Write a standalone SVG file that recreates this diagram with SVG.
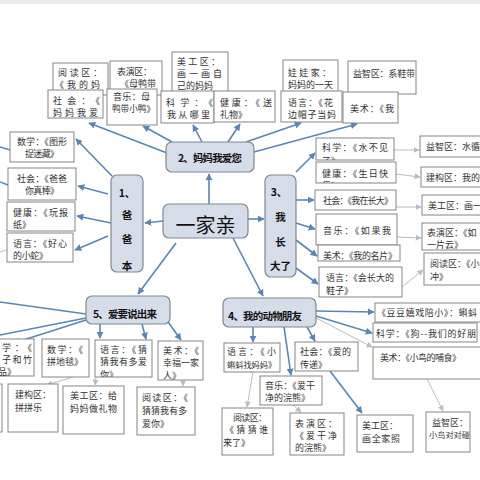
<svg xmlns="http://www.w3.org/2000/svg" width="480" height="480" viewBox="0 0 480 480">
<style>
.n{fill:#d5dde8;stroke:#7f8993;stroke-width:1.2}
.b{fill:#fff;stroke:#858585;stroke-width:1}
.t{font-family:"Noto Sans CJK SC","Noto Sans CJK JP",sans-serif;font-size:9px;fill:#333}
.h{font-family:"Noto Sans CJK SC","Noto Sans CJK JP",sans-serif;font-size:10.5px;font-weight:bold;fill:#111}
.c{stroke:#5a86b5;stroke-width:1.6;fill:none;marker-end:url(#a)}
.l{stroke:#5a86b5;stroke-width:1.4;fill:none}
.g{stroke:#b4bec8;stroke-width:1;fill:none;marker-end:url(#ag)}
</style>
<defs>
<marker id="a" viewBox="0 0 10 10" refX="9" refY="5" markerWidth="7" markerHeight="7" markerUnits="userSpaceOnUse" orient="auto"><path d="M0,0 L10,5 L0,10 z" fill="#5a86b5"/></marker>
<marker id="ag" viewBox="0 0 10 10" refX="9" refY="5" markerWidth="6" markerHeight="6" markerUnits="userSpaceOnUse" orient="auto"><path d="M0,0 L10,5 L0,10 z" fill="#b4bec8"/></marker>
<clipPath id="kR1"><rect x="316" y="138" width="78" height="22"/></clipPath>
<clipPath id="kR2"><rect x="316" y="162" width="80" height="21"/></clipPath>
<clipPath id="kV2"><rect x="95" y="340" width="57" height="37"/></clipPath>
<clipPath id="kV3"><rect x="158" y="341" width="45" height="39"/></clipPath>
</defs>
<rect x="0" y="0" width="480" height="4" fill="#ececec"/>

<g id="connectors">
<path class="c" d="M209,204 L209,174"/>
<path class="c" d="M163,221 L145,223"/>
<path class="c" d="M248,219 L264,219"/>
<path class="c" d="M176,243 L138,294"/>
<path class="c" d="M233,238 L263,296"/>
<path class="c" d="M167,153 L89,123"/>
<path class="c" d="M172,142 L143,126"/>
<path class="c" d="M202,142 L193,125"/>
<path class="c" d="M228,142 L240,124"/>
<path class="c" d="M246,142 L301,123"/>
<path class="c" d="M254,152 L357,124"/>
<path class="c" d="M112,176 L76,139"/>
<path class="c" d="M108,194 L78,186"/>
<path class="c" d="M111,223 L77,216"/>
<path class="c" d="M108,236 L75,250"/>
<path class="l" d="M0,147 L10,150"/>
<path class="l" d="M0,182 L8,185"/>
<path class="g" d="M0,252 L7,250" style="marker-end:none"/>
<path class="c" d="M296,172 L315,153"/>
<path class="c" d="M296,200 L314,200"/>
<path class="c" d="M296,223 L315,229"/>
<path class="c" d="M296,240 L317,256"/>
<path class="c" d="M296,268 L318,284"/>
<path class="c" d="M316,311 L374,312"/>
<path class="c" d="M316,316 L372,333"/>
<path class="g" d="M316,318 L372,347"/>
<path class="c" d="M253,327 L253,342"/>
<path class="c" d="M307,327 L315,341"/>
<path class="c" d="M284,327 L291,375"/>
<path class="c" d="M330,371 L362,413"/>
<path class="c" d="M100,324 L100,338"/>
<path class="c" d="M142,324 L146,339"/>
<path class="c" d="M168,322 L181,340"/>
<path class="l" d="M86,314 L0,302"/>
<path class="l" d="M86,318 L0,335"/>
<path class="c" d="M86,320 L14,343"/>
<path class="g" d="M394,150 L419,150"/>
<path class="g" d="M396,174 L420,177"/>
<path class="g" d="M396,207 L421,207"/>
<path class="g" d="M397,237 L421,238"/>
<path class="g" d="M402,287 L423,270"/>
<path class="g" d="M377,92 L381,83"/>
<path class="g" d="M253,372 L247,407"/>
<path class="g" d="M293,405 L301,412"/>
<path class="g" d="M427,379 L443,411"/>
<path class="g" d="M73,377 L47,385"/>
<path class="g" d="M96,377 L95,385"/>
<path class="g" d="M183,380 L183,386"/>
</g>

<g id="center"><rect class="n" x="163" y="204" width="85" height="34" rx="6"/><text class="t" x="205.5" y="233" text-anchor="middle" style="font-size:20px;fill:#111">一家亲</text></g>
<g id="node2"><rect class="n" x="166" y="142" width="88" height="30" rx="6"/><text class="h" x="178" y="162" textLength="64">2、妈妈我爱您</text></g>
<g id="node1"><rect class="n" x="111" y="175" width="32" height="97" rx="6"/>
<text class="h" x="127" y="197" text-anchor="middle">1、</text><text class="h" x="127" y="219" text-anchor="middle">爸</text><text class="h" x="127" y="243" text-anchor="middle">爸</text><text class="h" x="127" y="270" text-anchor="middle">本</text></g>
<g id="node3"><rect class="n" x="265" y="175" width="31" height="102" rx="6"/>
<text class="h" x="279" y="196" text-anchor="middle">3、</text><text class="h" x="280.5" y="221" text-anchor="middle">我</text><text class="h" x="280.5" y="246" text-anchor="middle">长</text><text class="h" x="280.5" y="270" text-anchor="middle">大了</text></g>
<g id="node5"><rect class="n" x="86" y="296" width="84" height="28" rx="6"/><text class="h" x="93" y="318" textLength="64">5、爱要说出来</text></g>
<g id="node4"><rect class="n" x="223" y="298" width="93" height="29" rx="6"/><text class="h" x="228" y="320" textLength="74">4、我的动物朋友</text></g>

<g id="t1"><rect class="b" x="53" y="63" width="55" height="32"/><text class="t" x="58" y="76" textLength="44">阅读区：</text><text class="t" x="55" y="88" textLength="45">《我的妈</text></g>
<g id="t2"><rect class="b" x="110" y="61" width="52" height="34"/><text class="t" x="117" y="75" textLength="35">表演区：</text><text class="t" x="120" y="87" textLength="36">《母鸭带</text></g>
<g id="t4"><rect class="b" x="48" y="90" width="55" height="28"/><text class="t" x="53" y="104" textLength="47">社会：《</text><text class="t" x="53" y="116" textLength="45">妈妈我爱</text></g>
<g id="t3"><rect class="b" x="107" y="89" width="50" height="36"/><text class="t" x="113" y="100" textLength="37">音乐：母</text><text class="t" x="112" y="112" style="font-size:8.6px">鸭带小鸭》</text></g>
<g id="t5"><rect class="b" x="172" y="52" width="56" height="40"/><text class="t" x="177" y="65" textLength="43">美工区：</text><text class="t" x="177" y="77" textLength="45">画一画自</text><text class="t" x="177" y="89" textLength="36">己的妈妈</text></g>
<g id="t6"><rect class="b" x="161" y="91" width="53" height="32"/><text class="t" x="166" y="106" textLength="47">科学：《</text><text class="t" x="167" y="118" textLength="43">我从哪里</text></g>
<g id="t7"><rect class="b" x="214" y="91" width="61" height="31"/><text class="t" x="220" y="106" textLength="52">健康：《送</text><text class="t" x="220" y="118" textLength="27">礼物》</text></g>
<g id="t8"><rect class="b" x="283" y="60" width="55" height="32"/><text class="t" x="288" y="76" textLength="43">娃娃家：</text><text class="t" x="288" y="88" textLength="45">妈妈的一天</text></g>
<g id="t9"><rect class="b" x="281" y="91" width="61" height="31"/><text class="t" x="288" y="106" textLength="45">语言：《花</text><text class="t" x="288" y="118" textLength="48">边帽子当妈</text></g>
<g id="t10"><rect class="b" x="348" y="61" width="68" height="33"/><text class="t" x="353" y="77" textLength="62">益智区：系鞋带</text></g>
<g id="t11"><rect class="b" x="343" y="92" width="55" height="31"/><text class="t" x="350" y="112" textLength="44">美术：《我</text></g>

<g id="l1"><rect class="b" x="10" y="132" width="64" height="30"/><text class="t" x="17" y="145" textLength="50">数学：《图形</text><text class="t" x="25" y="157" textLength="34">捉迷藏》</text></g>
<g id="l2"><rect class="b" x="8" y="168" width="68" height="32"/><text class="t" x="17" y="182" textLength="50">社会：《爸爸</text><text class="t" x="25" y="194" textLength="34">你真棒》</text></g>
<g id="l3"><rect class="b" x="7" y="202" width="68" height="29"/><text class="t" x="13" y="216" textLength="55">健康：《玩报</text><text class="t" x="13" y="228" textLength="18">纸》</text></g>
<g id="l4"><rect class="b" x="7" y="233" width="66" height="29"/><text class="t" x="13" y="247" textLength="54">语言：《好心</text><text class="t" x="13" y="259" textLength="35">的小蛇》</text></g>

<g id="r1"><rect class="b" x="316" y="138" width="78" height="22"/><g clip-path="url(#kR1)"><text class="t" x="322" y="151" textLength="66">科学：《水不见</text><text class="t" x="322" y="164">了》</text></g></g>
<g id="r2"><rect class="b" x="316" y="162" width="80" height="21"/><g clip-path="url(#kR2)"><text class="t" x="322" y="177" textLength="66">健康：《生日快</text><text class="t" x="322" y="189">乐》</text></g></g>
<g id="r3"><rect class="b" x="315" y="190" width="81" height="20"/><text class="t" x="323" y="204" textLength="70">社会：《我在长大》</text></g>
<g id="r4"><rect class="b" x="316" y="214" width="81" height="31"/><text class="t" x="323" y="234" textLength="68">音乐：《如果我</text></g>
<g id="r5"><rect class="b" x="318" y="245" width="82" height="16"/><text class="t" x="323" y="259" textLength="74">美术：《我的名片》</text></g>
<g id="r6"><rect class="b" x="319" y="267" width="83" height="30"/><text class="t" x="326" y="281" textLength="68">语言：《会长大的</text><text class="t" x="326" y="294" textLength="27">鞋子》</text></g>

<g id="z1"><rect class="b" x="420" y="136" width="70" height="21"/><text class="t" x="426" y="150">益智区：水循环</text></g>
<g id="z2"><rect class="b" x="421" y="167" width="70" height="20"/><text class="t" x="426" y="181">建构区：我的</text></g>
<g id="z3"><rect class="b" x="422" y="195" width="70" height="20"/><text class="t" x="428" y="209">美工区：画一画</text></g>
<g id="z4"><rect class="b" x="422" y="223" width="70" height="27"/><text class="t" x="427" y="236">表演区：《如</text><text class="t" x="427" y="248">一片云》</text></g>
<g id="z5"><rect class="b" x="424" y="253" width="70" height="32"/><text class="t" x="430" y="267">阅读区：《小</text><text class="t" x="430" y="280">冲》</text></g>

<g id="f1"><rect class="b" x="375" y="303" width="110" height="19"/><text class="t" x="377" y="316" textLength="100">《豆豆嬉戏陪小》：蝌蚪</text></g>
<g id="f2"><rect class="b" x="373" y="323" width="104" height="19"/><text class="t" x="376" y="337" textLength="100">科学：《狗--我们的好朋</text></g>
<g id="f3"><rect class="b" x="373" y="347" width="110" height="32"/><text class="t" x="380" y="361" textLength="81">美术：《小鸟的哺食》</text></g>
<g id="f4"><rect class="b" x="224" y="343" width="56" height="29"/><text class="t" x="227" y="355" textLength="49">语言：《小</text><text class="t" x="227" y="368" style="font-size:8.2px">蝌蚪找妈妈》</text></g>
<g id="f5"><rect class="b" x="295" y="342" width="63" height="29"/><text class="t" x="300" y="355" textLength="51">社会：《爱的</text><text class="t" x="300" y="368" textLength="27">传递》</text></g>
<g id="f6"><rect class="b" x="260" y="376" width="62" height="29"/><text class="t" x="265" y="389" textLength="50">音乐：《爱干</text><text class="t" x="265" y="401" textLength="45">净的浣熊》</text></g>
<g id="f7"><rect class="b" x="222" y="408" width="51" height="47"/><text class="t" x="233" y="421" textLength="34">阅读区：</text><text class="t" x="225" y="433" textLength="43">《猜猜谁</text><text class="t" x="223" y="446" textLength="27">来了》</text></g>
<g id="f8"><rect class="b" x="290" y="413" width="54" height="42"/><text class="t" x="295" y="427" textLength="42">表演区：</text><text class="t" x="295" y="439" textLength="42">《爱干净</text><text class="t" x="295" y="451" textLength="36">的浣熊》</text></g>
<g id="f9"><rect class="b" x="357" y="415" width="56" height="37"/><text class="t" x="362" y="429" textLength="36">美工区：</text><text class="t" x="362" y="442" textLength="38">画全家照</text></g>
<g id="f10"><rect class="b" x="426" y="412" width="44" height="40"/><text class="t" x="432" y="426" textLength="36">益智区：</text><text class="t" x="429" y="438" style="font-size:8.2px">小鸟对对碰</text></g>

<g id="v0"><rect class="b" x="-20" y="339" width="54" height="37"/><text class="t" x="2" y="351" textLength="30">学：《</text><text class="t" x="2" y="363" textLength="30">子和竹</text><text class="t" x="-2" y="375">品》</text></g>
<g id="v1"><rect class="b" x="42" y="339" width="47" height="38"/><text class="t" x="47" y="353" textLength="36">数学：《</text><text class="t" x="47" y="365" textLength="36">拼地毯》</text></g>
<g id="v2"><rect class="b" x="95" y="340" width="57" height="37"/><g clip-path="url(#kV2)"><text class="t" x="100" y="353" textLength="47">语言：《猜</text><text class="t" x="100" y="365" textLength="47">猜我有多爱</text><text class="t" x="100" y="378">你》</text></g></g>
<g id="v3"><rect class="b" x="158" y="341" width="45" height="39"/><g clip-path="url(#kV3)"><text class="t" x="163" y="354" textLength="36">美术：《</text><text class="t" x="163" y="366" textLength="36">幸福一家</text><text class="t" x="163" y="379">人》</text></g></g>
<g id="v4"><rect class="b" x="8" y="384" width="50" height="48"/><text class="t" x="15" y="398" textLength="36">建构区：</text><text class="t" x="15" y="411" textLength="27">拼拼乐</text></g>
<g id="v5"><rect class="b" x="63" y="386" width="61" height="48"/><text class="t" x="70" y="399" textLength="47">美工区：给</text><text class="t" x="70" y="412" textLength="47">妈妈做礼物</text></g>
<g id="v6"><rect class="b" x="137" y="387" width="58" height="48"/><text class="t" x="142" y="401" textLength="46">阅读区：《</text><text class="t" x="142" y="414" textLength="45">猜猜我有多</text><text class="t" x="142" y="427" textLength="27">爱你》</text></g>
<g id="v7"><rect class="b" x="-30" y="384" width="32" height="48"/></g>
</svg>
